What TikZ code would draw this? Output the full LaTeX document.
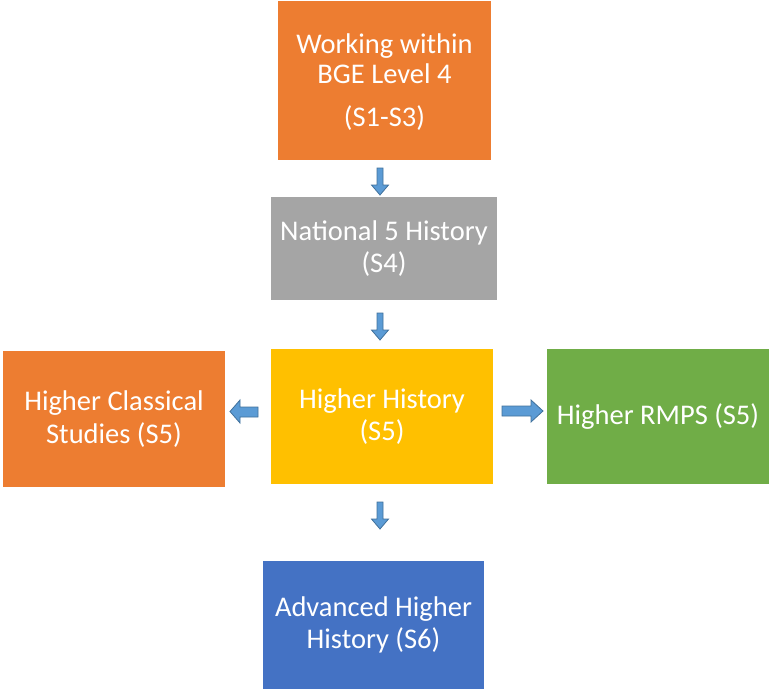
\documentclass[tikz,border=0pt]{standalone}
\usepackage{fontspec}
\setmainfont{Carlito}
\definecolor{orng}{HTML}{ED7D31}
\definecolor{gry}{HTML}{A5A5A5}
\definecolor{yel}{HTML}{FFC000}
\definecolor{grn}{HTML}{70AD47}
\definecolor{blu}{HTML}{4472C4}
\definecolor{arrfill}{HTML}{5B9BD5}
\definecolor{arrline}{HTML}{41719C}
\tikzset{
  box/.style={rectangle, inner sep=0pt, text=white, align=center,
    font=\fontsize{28.5}{32.5}\selectfont},
  barrow/.style={fill=arrfill, draw=arrline, line width=0.8pt, line join=miter}
}
\begin{document}
\begin{tikzpicture}[x=1pt,y=-1pt]
\useasboundingbox (0,0) rectangle (770,691);
% boxes
\node[box, fill=orng, minimum width=213, minimum height=159] (bge) at (384.5,80.5) {};
\node[box, font=\fontsize{28.5}{30.5}\selectfont] (bgetext) at (384.5,82)
  {Working within\\BGE Level 4\\[12pt](S1-S3)};
\node[box, fill=gry, minimum width=226, minimum height=103] (n5) at (384,248.5)
  {National 5 History\\(S4)};
\node[box, fill=yel, minimum width=222, minimum height=135] (hh) at (382,416.5)
  {Higher History\\(S5)};
\node[box, fill=orng, minimum width=222, minimum height=136] (hcs) at (114,419)
  {Higher Classical\\Studies (S5)};
\node[box, fill=grn, minimum width=222, minimum height=135] (rmps) at (658,416.5)
  {Higher RMPS (S5)};
\node[box, fill=blu, minimum width=221, minimum height=128] (ah) at (373.5,625)
  {Advanced Higher\\History (S6)};
% block arrows (down)
\foreach \t/\b in {168/195, 313/340, 502/529}{
  \draw[barrow] (377,\t) -- (383,\t) -- (383,\b-10) -- (388.5,\b-10) -- (380,\b)
    -- (371.5,\b-10) -- (377,\b-10) -- cycle;
}
% left arrow
\draw[barrow] (258,407) -- (240,407) -- (240,400) -- (230,411.5) -- (240,423)
  -- (240,417) -- (258,417) -- cycle;
% right arrow
\draw[barrow] (502,406) -- (531,406) -- (531,400) -- (543,411) -- (531,422)
  -- (531,416) -- (502,416) -- cycle;
\end{tikzpicture}
\end{document}
